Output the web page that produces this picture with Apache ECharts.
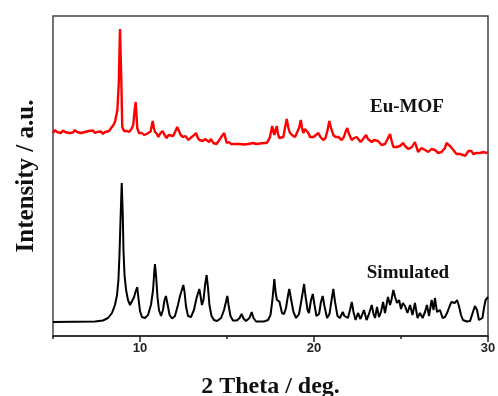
<!DOCTYPE html>
<html>
<head>
<meta charset="utf-8">
<style>html,body{margin:0;padding:0;background:#fff;}#chart{width:498px;height:396px;}</style>
<script src="https://cdn.jsdelivr.net/npm/echarts@6/dist/echarts.min.js"></script>
</head>
<body>
<div id="chart"></div>
<script>
// 2-theta positions (deg) and intensities (a.u.)
const simTheta = [5.00,7.41,7.87,8.16,8.39,8.56,8.68,8.76,8.82,8.88,
8.95,9.01,9.05,9.11,9.20,9.31,9.43,9.54,9.66,9.74,
9.84,9.91,10.00,10.11,10.29,10.46,10.63,10.75,10.82,10.86,
10.92,11.01,11.09,11.21,11.32,11.41,11.49,11.58,11.70,11.84,
12.01,12.18,12.30,12.36,12.49,12.56,12.64,12.76,12.93,13.10,
13.25,13.41,13.48,13.56,13.65,13.74,13.83,13.91,13.99,14.11,
14.25,14.43,14.66,14.83,15.02,15.09,15.20,15.34,15.57,15.72,
15.84,15.95,16.09,16.29,16.42,16.52,16.67,17.13,17.36,17.50,
17.61,17.72,17.79,17.87,18.01,18.07,18.16,18.28,18.39,18.51,
18.58,18.68,18.82,18.97,19.14,19.28,19.43,19.51,19.63,19.71,
19.83,19.93,20.03,20.14,20.29,20.40,20.50,20.60,20.75,20.89,
21.01,21.11,21.21,21.35,21.49,21.65,21.75,21.84,21.95,22.07,
22.17,22.27,22.39,22.53,22.67,22.87,23.02,23.16,23.32,23.42,
23.51,23.62,23.74,23.85,23.97,24.08,24.25,24.37,24.45,24.56,
24.66,24.77,24.89,25.00,25.11,25.23,25.37,25.52,25.66,25.80,
25.95,26.09,26.24,26.38,26.49,26.61,26.76,26.87,26.95,27.07,
27.24,27.39,27.53,27.67,27.82,27.90,28.01,28.10,28.22,28.33,
28.45,28.56,28.78,28.97,29.08,29.25,29.37,29.48,29.57,29.68,
29.77,29.86,30.00];
const simIntensity = [14,14.5,15.5,18,23,31,41,56,81,116,
153,121,86,61,46,36,31,33,39,44,
49,38,25,19,18,21,31,46,64,72,
61,38,26,20,26,36,40,32,21,17.5,
20,31,40,39,51,44,30,20,19,26,
38,47,40,31,36,51,61,48,31,20,
16,15,18,26,40,31,20,15.5,15.5,18,
22,17.5,15,18,24,18,14.5,14.5,16,21,
36,57,44,36,34.5,30,23,22,28,41,
47,37,24,18,22,36,52,40,26,23,
36,42,31,20,22,34,40,30,18,22,
36,47,34,20,18,24,20,22,18,26,
34,24,16,23,17,26,16,22,31,22,
18,29,19,24,34,23,39,31,36,46,
39,33,36,27,33,30,23,31,21,33,
18,23,18,24,31,20,36,26,38,24,
26,18,19,24,31,34,36,33,36,30,
21,16,14.5,15,21,30,26,16,14,18,
28,36,39];

const mofTheta = [5.00,5.11,5.23,5.34,5.46,5.57,5.69,5.80,5.92,6.03,
6.15,6.26,6.38,6.49,6.61,6.72,6.84,6.95,7.07,7.18,
7.30,7.41,7.53,7.64,7.76,7.87,7.99,8.10,8.22,8.33,
8.47,8.56,8.70,8.78,8.85,8.93,8.98,9.08,9.14,9.25,
9.37,9.43,9.51,9.61,9.68,9.75,9.80,9.84,9.94,10.00,
10.11,10.23,10.38,10.49,10.61,10.73,10.80,10.86,10.98,11.05,
11.18,11.30,11.41,11.53,11.64,11.75,11.91,12.04,12.14,12.24,
12.34,12.47,12.61,12.78,12.90,13.05,13.22,13.30,13.41,13.51,
13.62,13.74,13.85,13.97,14.08,14.21,14.31,14.40,14.50,14.60,
14.71,14.84,14.91,14.98,15.11,15.23,15.34,15.46,15.57,15.75,
15.86,15.98,16.09,16.21,16.32,16.51,16.67,16.78,16.90,17.01,
17.13,17.28,17.39,17.47,17.60,17.67,17.72,17.79,17.86,17.93,
18.01,18.10,18.24,18.33,18.43,18.53,18.62,18.74,18.91,19.02,
19.14,19.24,19.31,19.39,19.48,19.58,19.68,19.77,19.87,19.97,
20.11,20.25,20.37,20.53,20.66,20.78,20.88,20.98,21.11,21.24,
21.40,21.49,21.59,21.72,21.81,21.91,22.01,22.17,22.30,22.45,
22.56,22.68,22.82,22.99,23.10,23.32,23.45,23.56,23.68,23.79,
23.88,23.98,24.08,24.20,24.37,24.45,24.56,24.66,24.74,24.84,
24.94,25.03,25.13,25.23,25.33,25.43,25.52,25.63,25.80,25.89,
25.99,26.09,26.18,26.28,26.38,26.46,26.57,26.67,26.75,26.86,
26.95,27.04,27.14,27.24,27.33,27.43,27.53,27.61,27.72,27.82,
27.90,28.01,28.10,28.19,28.29,28.39,28.48,28.56,28.68,28.79,
28.88,28.97,29.05,29.15,29.25,29.34,29.42,29.54,29.65,29.77,
29.89,30.00];
const mofIntensity = [203,206,204,205,203,205.5,204,205,203,205,
203.5,206,204,204.5,203,205,204,202.5,205,204,
205.5,203,204,202.5,204.5,202,204,203,205,207,
211,214,226,253,307,253,209,205,203,205,
204,204.5,207,211,224,234,221,208,203,201,
203,201,202,203,204.5,215,208,204,202,199,
203,205,201,198,201,199,200,205,209,205,
201,199,200,196,198,200,203,199,196,198,
195,197,196,194,197,193,195,192,194,197,
200,203,198,193,194,192,193.5,192,193,192,
193.5,191.5,193,192,193.5,193,192,194,192.5,194,
193,193,196,199,210,204,201,206,210,202,
198,199,199,208,217,208,203,201,199,200,
208,216,208,203,207,209,203,199,198,199,
201,203,199,196,198,206,215,208,201,199,
199,197,196,199,204,208,202,196,198,199,
197,194,197,201,197,194,196,194,195,193,
191,189,192,196,202,196,189,191,189,188,
190,192,193,190,189,187,186,189,194,189,
184,186,188,188,186,184,184,186,187,188,
186,185,183,185,184,184,188,193,195,190,
188,186,184,182,181,182,180,181,180,182,
185,187,185,182,181,183,184,183,182,184,
183,184];

const majorTicks = [10, 20, 30];
const seriesNames = ['Simulated', 'Eu-MOF'];
const labelAnchors = [[25.4, 63], [25.34, 228.5]];

const zip = (a, b) => a.map((v, i) => [v, b[i]]);
const serif = 'Liberation Serif, Times New Roman, serif';
const chart = echarts.init(document.getElementById('chart'), null, {renderer: 'canvas'});

function makeLabel(name, coord) {
  return {
    symbol: 'circle', symbolSize: 1,
    itemStyle: {color: 'rgba(0,0,0,0)'},
    label: {show: true, position: 'inside', formatter: name,
      fontFamily: serif, fontWeight: 'bold', fontSize: 19, color: '#111'},
    data: [{coord: coord}]
  };
}

chart.setOption({
  animation: false,
  grid: {left: 53, right: 10, top: 16, bottom: 60, show: true, borderColor: '#444', borderWidth: 1.5,
    outerBoundsMode: 'none', containLabel: false},
  xAxis: [{
    type: 'value', min: 5, max: 30, interval: 5,
    axisLine: {show: true, onZero: false, lineStyle: {color: '#222', width: 1.5}},
    axisTick: {show: true, length: 3, lineStyle: {color: '#222', width: 1.5}},
    axisLabel: {customValues: majorTicks, fontFamily: 'Liberation Sans, Arial, sans-serif', fontWeight: 'bold',
      fontSize: 13, color: '#222', margin: 6},
    splitLine: {show: false},
    name: '2 Theta / deg.', nameLocation: 'middle', nameGap: 39,
    nameTextStyle: {fontFamily: serif, fontWeight: 'bold', fontSize: 24, color: '#111'}
  }, {
    type: 'value', min: 5, max: 30, interval: 5, position: 'bottom',
    axisLine: {show: false, onZero: false},
    axisTick: {show: true, length: 6, customValues: majorTicks, lineStyle: {color: '#222', width: 1.5}},
    axisLabel: {show: false}, splitLine: {show: false}
  }],
  yAxis: {
    type: 'value', min: 0, max: 320,
    axisLine: {show: false}, axisTick: {show: false}, axisLabel: {show: false}, splitLine: {show: false},
    name: 'Intensity / a.u.', nameLocation: 'middle', nameGap: 14, nameRotate: 90,
    nameTextStyle: {fontFamily: serif, fontWeight: 'bold', fontSize: 25, color: '#111'}
  },
  series: [{
    name: seriesNames[0], type: 'line', xAxisIndex: 0, showSymbol: false, smooth: false,
    lineStyle: {color: '#000', width: 2}, itemStyle: {color: '#000'},
    data: zip(simTheta, simIntensity),
    markPoint: makeLabel(seriesNames[0], labelAnchors[0])
  }, {
    name: seriesNames[1], type: 'line', xAxisIndex: 0, showSymbol: false, smooth: false,
    lineStyle: {color: '#f00', width: 2.4}, itemStyle: {color: '#f00'},
    data: zip(mofTheta, mofIntensity),
    markPoint: makeLabel(seriesNames[1], labelAnchors[1])
  }]
});
</script>
</body>
</html>
